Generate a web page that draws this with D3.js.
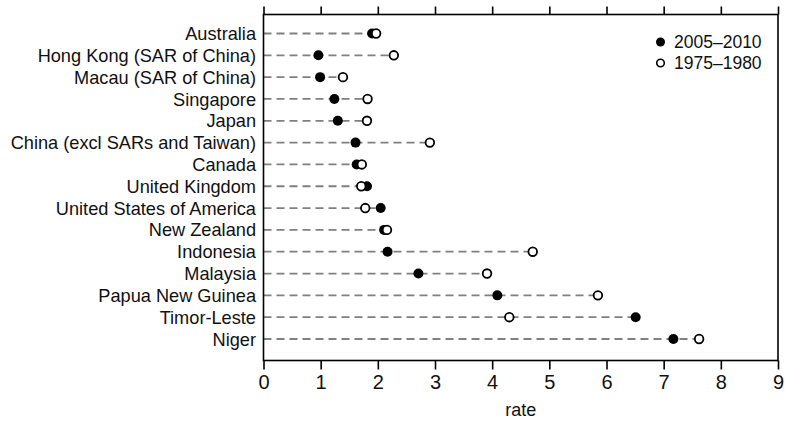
<!DOCTYPE html>
<html>
<head>
<meta charset="utf-8">
<script src="https://cdn.jsdelivr.net/npm/d3@7"></script>
<style>
  html, body { margin: 0; padding: 0; background: #fff; }
  svg { display: block; font-family: "Liberation Sans", Arial, sans-serif; }
</style>
</head>
<body>
<svg id="chart" width="785" height="421"></svg>
<script>
const countries = ["Australia", "Hong Kong (SAR of China)", "Macau (SAR of China)", "Singapore", "Japan",
  "China (excl SARs and Taiwan)", "Canada", "United Kingdom", "United States of America", "New Zealand",
  "Indonesia", "Malaysia", "Papua New Guinea", "Timor-Leste", "Niger"];
const rate2005 = [1.90, 0.96, 0.99, 1.24, 1.30, 1.61, 1.63, 1.81, 2.05, 2.11, 2.17, 2.71, 4.09, 6.51, 7.17];
const rate1975 = [1.97, 2.28, 1.39, 1.82, 1.81, 2.91, 1.72, 1.71, 1.78, 2.16, 4.71, 3.91, 5.85, 4.30, 7.62];
const seriesLabels = ["2005\u20132010", "1975\u20131980"];
const xTicks = [0, 1, 2, 3, 4, 5, 6, 7, 8, 9];
const xLabel = "rate";

(function () {
const svg = d3.select("#chart");
const mL = 263.5, mR = 778, mT = 14.5, mB = 360.5;
const fs = "18.2px";

const x = d3.scaleLinear().domain([0, 9]).range([mL, mR]);
const y = d3.scalePoint().domain(countries).range([33.5, 339]);

// dashed guide lines
svg.append("g").selectAll("line").data(countries).join("line")
  .attr("x1", mL).attr("x2", (d, i) => x(Math.max(rate2005[i], rate1975[i])))
  .attr("y1", d => y(d)).attr("y2", d => y(d))
  .attr("stroke", "#808080").attr("stroke-width", 1.8)
  .attr("stroke-dasharray", "8,5");

// box
svg.append("rect").attr("x", mL).attr("y", mT)
  .attr("width", mR - mL).attr("height", mB - mT)
  .attr("fill", "none").attr("stroke", "#000").attr("stroke-width", 1.6);

// bottom axis
const bAxis = svg.append("g").attr("transform", `translate(0,${mB})`)
  .call(d3.axisBottom(x).tickValues(xTicks).tickSize(9).tickPadding(5).tickFormat(d3.format("d")));
bAxis.attr("font-size", null).attr("font-family", null);
bAxis.select(".domain").remove();
bAxis.selectAll("line").attr("stroke", "#000").attr("stroke-width", 1.6);
bAxis.selectAll("text").style("font-size", "20px").attr("fill", "#111");

// top axis (ticks only)
const tAxis = svg.append("g").attr("transform", `translate(0,${mT})`)
  .call(d3.axisTop(x).tickValues(xTicks).tickSize(8).tickFormat(""));
tAxis.select(".domain").remove();
tAxis.selectAll("line").attr("stroke", "#000").attr("stroke-width", 1.6);

// country labels
svg.append("g").selectAll("text").data(countries).join("text")
  .attr("x", 256).attr("y", d => y(d)).attr("dy", "0.36em")
  .attr("text-anchor", "end").style("font-size", fs).attr("fill", "#111")
  .text(d => d);

// points
svg.append("g").selectAll("circle").data(countries).join("circle")
  .attr("cx", (d, i) => x(rate2005[i])).attr("cy", d => y(d))
  .attr("r", 5).attr("fill", "#000");
svg.append("g").selectAll("circle").data(countries).join("circle")
  .attr("cx", (d, i) => x(rate1975[i])).attr("cy", d => y(d))
  .attr("r", 4.3).attr("fill", "#fff").attr("stroke", "#000").attr("stroke-width", 1.8);

// axis title
svg.append("text").attr("x", (mL + mR) / 2).attr("y", 416)
  .attr("text-anchor", "middle").style("font-size", "18px").attr("fill", "#111").text(xLabel);

// legend
const leg = svg.append("g");
const legY = [42, 63];
leg.append("circle").attr("cx", 660.5).attr("cy", legY[0]).attr("r", 4.5).attr("fill", "#000");
leg.append("circle").attr("cx", 660.5).attr("cy", legY[1]).attr("r", 3.8)
  .attr("fill", "#fff").attr("stroke", "#000").attr("stroke-width", 1.6);
leg.selectAll("text").data(seriesLabels).join("text")
  .attr("x", 674).attr("y", (d, i) => legY[i]).attr("dy", "0.36em")
  .style("font-size", "17.5px").attr("fill", "#111").text(d => d);
})();
</script>
</body>
</html>
